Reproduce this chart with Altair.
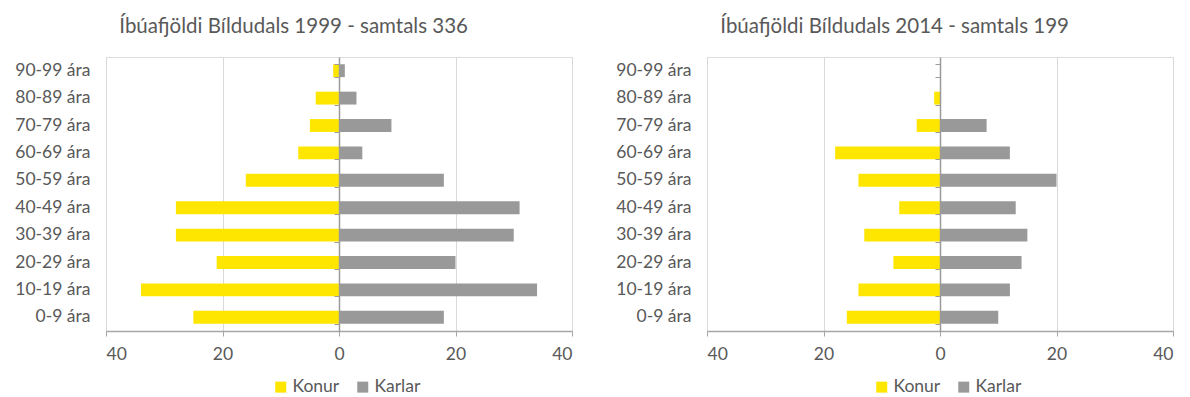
import altair as alt
import pandas as pd

ages = ["90-99 ára", "80-89 ára", "70-79 ára", "60-69 ára", "50-59 ára",
        "40-49 ára", "30-39 ára", "20-29 ára", "10-19 ára", "0-9 ára"]
konur_1999 = [1, 4, 5, 7, 16, 28, 28, 21, 34, 25]
karlar_1999 = [1, 3, 9, 4, 18, 31, 30, 20, 34, 18]
konur_2014 = [0, 1, 4, 18, 14, 7, 13, 8, 14, 16]
karlar_2014 = [0, 0, 8, 12, 20, 13, 15, 14, 12, 10]
titles = ["Íbúafjöldi Bíldudals 1999 - samtals 336", "Íbúafjöldi Bíldudals 2014 - samtals 199"]
sexes = ["Konur", "Karlar"]
colors = ["#FFE600", "#999999"]

FONT = "Lato"
TXT = "#595959"
W, H = 466, 274
FS = 17.5


def panel(title, konur, karlar):
    rows = []
    for a, k, m in zip(ages, konur, karlar):
        rows.append({"age": a, "sex": "Konur", "value": -k})
        rows.append({"age": a, "sex": "Karlar", "value": m})
    df = pd.DataFrame(rows)
    yscale = alt.Scale(domain=ages, paddingInner=0.53)
    bars = alt.Chart(df).mark_bar().encode(
        x=alt.X("value:Q", scale=alt.Scale(domain=[-40, 40], nice=False),
                axis=alt.Axis(values=[-40, -20, 0, 20, 40], labelExpr="abs(datum.value)",
                              title=None, grid=True, gridColor="#d9d9d9",
                              domainColor="#a6a6a6", domainWidth=1.5,
                              tickColor="#a6a6a6", tickSize=5, labelPadding=9,
                              labelFontSize=FS, labelColor=TXT, labelFont=FONT)),
        y=alt.Y("age:N", scale=yscale, sort=ages,
                axis=alt.Axis(title=None, orient="left", domain=False, ticks=False,
                              labelFontSize=FS, labelColor=TXT, labelFont=FONT,
                              labelPadding=16)),
        color=alt.Color("sex:N", scale=alt.Scale(domain=sexes, range=colors),
                        sort=sexes,
                        legend=alt.Legend(title=None, orient="none", direction="horizontal",
                                          legendX=166, legendY=321, symbolType="square",
                                          symbolSize=121, symbolStrokeWidth=0,
                                          labelFontSize=FS, labelColor=TXT, labelFont=FONT,
                                          columnPadding=14, labelOffset=3)),
    )
    center = alt.Chart(df).mark_bar(opacity=0).encode(
        x=alt.X("value:Q", scale=alt.Scale(domain=[-40, 40], nice=False)),
        y=alt.Y("age:N", scale=yscale, sort=ages,
                axis=alt.Axis(title=None, orient="left", labels=False, offset=-W / 2,
                              domainColor="#9a9a9a", domainWidth=1.5,
                              tickColor="#9a9a9a", tickSize=5, tickBand="extent",
                              grid=False, zindex=1)),
    )
    return alt.layer(bars, center).resolve_axis(y="independent").properties(
        width=W, height=H,
        title=alt.TitleParams(title, anchor="middle", frame="bounds", fontSize=20.5,
                              font=FONT, fontWeight="normal", color=TXT, offset=20),
    )


left = panel(titles[0], konur_1999, karlar_1999)
right = panel(titles[1], konur_2014, karlar_2014)

chart = alt.hconcat(left, right, spacing=42).resolve_legend(color="independent").properties(
    padding={"left": 14, "top": 16, "right": 5, "bottom": 0}
).configure_view(stroke=None).configure(background="white")

chart.save("out.html", embed_options={"renderer": "svg", "actions": False})
